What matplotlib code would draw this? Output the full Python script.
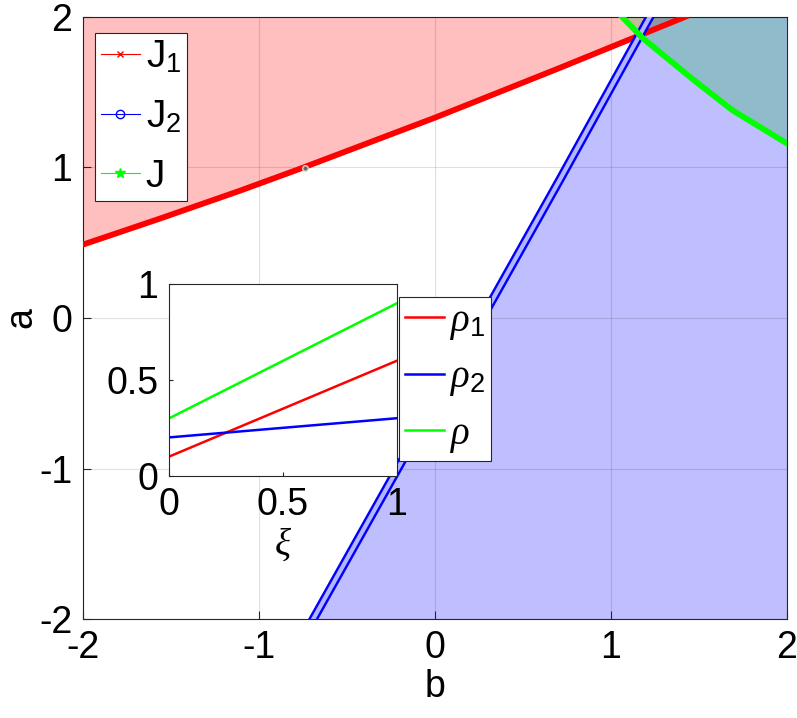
import matplotlib
matplotlib.use('Agg')
import matplotlib.pyplot as plt
from matplotlib.lines import Line2D

plt.rcParams['font.family'] = ['Liberation Sans', 'DejaVu Sans']
plt.rcParams['mathtext.fontset'] = 'custom'
plt.rcParams['mathtext.rm'] = 'Liberation Sans'
plt.rcParams['mathtext.it'] = 'Liberation Serif:italic'
plt.rcParams['axes.unicode_minus'] = False

# boundary J1
j1_b = [-2.0, -1.564, -1.109, -0.769, 0.0, 0.254, 0.709, 1.424]
j1_a = [0.488, 0.66, 0.845, 0.99, 1.33, 1.448, 1.66, 2.0]
# boundary J2
j2_b = [-0.693, -0.212, 0.709, 1.222]
j2_a = [-2.0, -1.0, 0.916, 2.0]
# boundary J
j_b = [1.055, 1.182, 1.466, 1.693, 1.997]
j_a = [2.01, 1.857, 1.585, 1.378, 1.162]
# single grey point
dot_b, dot_a = [-0.739], [0.995]

# inset data
xi = [0, 1]
rho1 = [0.10, 0.60]
rho2 = [0.20, 0.30]
rho = [0.30, 0.90]

fs = 27
fig = plt.figure(figsize=(7.97, 7.18), dpi=100)
ax = fig.add_axes([0.1045, 0.1375, 0.8825, 0.8392])

# shaded regions
ax.fill_between(j1_b, j1_a, 2, color='red', alpha=0.25, lw=0)
ax.fill_betweenx(j2_a, j2_b, 2, color='blue', alpha=0.25, lw=0)
ax.fill_between(j_b, j_a, 2, color=(0, 0.7, 0.2), alpha=0.25, lw=0)

# boundaries
ax.plot(j1_b, j1_a, color='red', lw=4.2, zorder=3)
ax.plot(j2_b, j2_a, color='blue', lw=6.5, zorder=3)
ax.plot(j2_b, j2_a, color='#b4b4ff', lw=3.0, zorder=3)
ax.plot(j_b, j_a, color=(0, 1, 0), lw=4.2, zorder=3)
ax.plot(dot_b, dot_a, 'o', ms=4, mfc='#666666', mec='#ddddcc', mew=1, zorder=4)

ax.set_xlim(-2, 2)
ax.set_ylim(-2, 2)
ax.set_xticks([-2, -1, 0, 1, 2])
ax.set_yticks([-2, -1, 0, 1, 2])
ax.tick_params(direction='in', labelsize=fs, length=6, color='0.15', pad=8)
ax.grid(True, color='black', alpha=0.12, lw=0.8)
ax.set_axisbelow(False)
for s in ax.spines.values():
    s.set_color('0.15')
    s.set_linewidth(0.8)
ax.set_xlabel('b', fontsize=fs, labelpad=2)
ax.set_ylabel('a', fontsize=fs, labelpad=0)

handles = [
    Line2D([], [], color='red', lw=0.8, marker='x', ms=5),
    Line2D([], [], color='blue', lw=0.8, marker='o', ms=6, mfc='none'),
    Line2D([], [], color=(0, 1, 0), lw=0.8, marker='*', ms=7),
]
leg = ax.legend(handles, [r'J$_{\mathregular{1}}$', r'J$_{\mathregular{2}}$', 'J'],
                loc='upper left', bbox_to_anchor=(95 / 797, 1 - 33 / 718),
                bbox_transform=fig.transFigure, borderaxespad=0,
                fontsize=28, fancybox=False, framealpha=1, edgecolor='0.15',
                handlelength=1.0, handletextpad=0.15, labelspacing=0.6,
                borderpad=0.15)
leg.get_frame().set_linewidth(0.8)

# inset
ins = fig.add_axes([0.2124, 0.3375, 0.2853, 0.2666])
ins.plot(xi, rho1, color='red', lw=1.8)
ins.plot(xi, rho2, color='blue', lw=1.8)
ins.plot(xi, rho, color=(0, 1, 0), lw=1.8)
ins.set_xlim(0, 1)
ins.set_ylim(0, 1)
ins.set_xticks([0, 0.5, 1])
ins.set_yticks([0, 0.5, 1])
ins.set_xticklabels(['0', '0.5', '1'])
ins.set_yticklabels(['0', '0.5', '1'])
ins.tick_params(direction='in', labelsize=fs, length=3, color='0.15', pad=8)
for s in ins.spines.values():
    s.set_color('0.15')
    s.set_linewidth(0.8)
ins.set_xlabel(r'$\xi$', fontsize=fs, labelpad=2)

ileg = ins.legend([r'$\rho_{\mathregular{1}}$', r'$\rho_{\mathregular{2}}$', r'$\rho$'],
                  loc='upper left', bbox_to_anchor=(399 / 797, 1 - 297 / 718),
                  bbox_transform=fig.transFigure, borderaxespad=0,
                  fontsize=28, fancybox=False, framealpha=1, edgecolor='0.15',
                  handlelength=1.0, handletextpad=0.15, labelspacing=0.45,
                  borderpad=0.15)
ileg.get_frame().set_linewidth(0.8)

fig.savefig('out.png', dpi=100)
